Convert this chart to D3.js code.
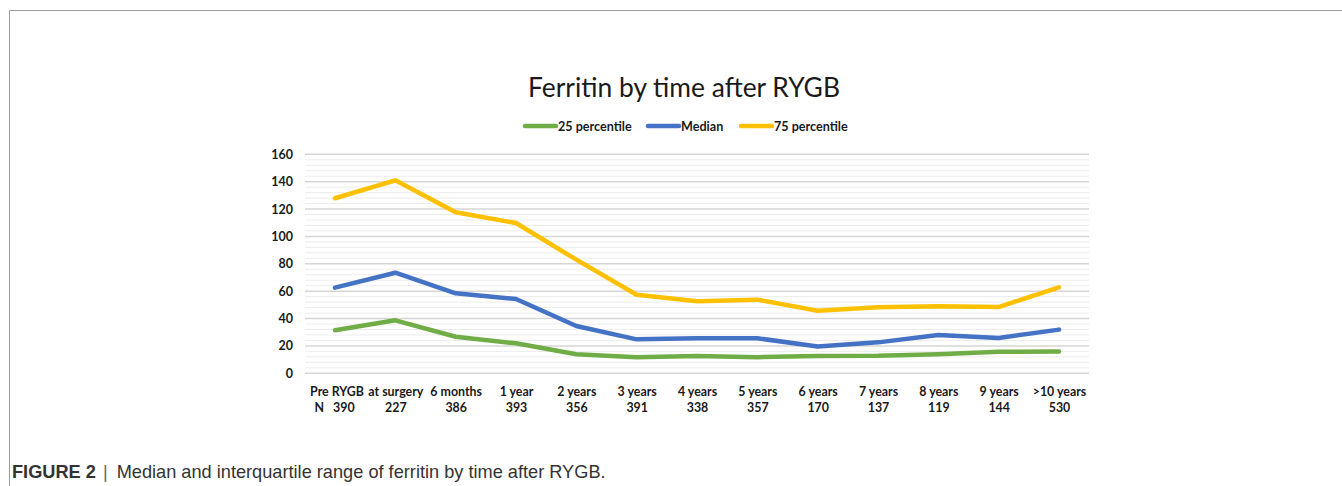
<!DOCTYPE html>
<html><head><meta charset="utf-8">
<script src="https://cdn.jsdelivr.net/npm/d3@7"></script>
<style>
html,body{margin:0;padding:0;background:#fff;}
svg{display:block;}
</style></head>
<body>
<svg id="chart" width="1342" height="486"></svg>
<script>
const categories = ["Pre RYGB","at surgery","6 months","1 year","2 years","3 years","4 years","5 years","6  years","7  years","8  years","9  years",">10 years"];
const nLabels = ["N   390","227","386","393","356","391","338","357","170","137","119","144","530"];
const p25 = [31.5,38.7,26.7,21.9,13.9,11.8,12.6,11.8,12.6,12.8,14,15.8,15.9];
const median = [62.6,73.5,58.4,54.3,34.6,24.8,25.6,25.6,19.6,22.6,28,25.8,31.9];
const p75 = [127.9,141,117.6,109.8,83,57.4,52.6,53.8,45.7,48.2,48.9,48.4,62.8];
const yTicks = [0,20,40,60,80,100,120,140,160];
const seriesNames = ["25 percentile","Median","75 percentile"];
const seriesColors = ["#70AD47","#4472C4","#FFC000"];
const titleText = "Ferritin by time after RYGB";

const svg = d3.select("#chart");
const FONT = "Lato, 'Open Sans', sans-serif";

// frame
svg.append("line").attr("x1",9.5).attr("x2",1342).attr("y1",10.5).attr("y2",10.5).attr("stroke","#9a9a9a").attr("stroke-width",1);
svg.append("line").attr("x1",9.5).attr("x2",9.5).attr("y1",10.5).attr("y2",486).attr("stroke","#9a9a9a").attr("stroke-width",1);

const x = d3.scalePoint().domain(categories).range([335,1059]);
const y = d3.scaleLinear().domain([0,160]).range([373.3,154.3]);

// minor grid
const minor = d3.range(0,161,4).filter(v=>v%20!==0);
svg.append("g").selectAll("line").data(minor).join("line")
  .attr("x1",305).attr("x2",1089)
  .attr("y1",d=>y(d)).attr("y2",d=>y(d))
  .attr("stroke","#ececec").attr("stroke-width",1);
// major grid
svg.append("g").selectAll("line").data(yTicks).join("line")
  .attr("x1",305).attr("x2",1089)
  .attr("y1",d=>y(d)).attr("y2",d=>y(d))
  .attr("stroke","#d6d6d6").attr("stroke-width",1.5);

// y axis labels
const yAxis = d3.axisLeft(y).tickValues(yTicks).tickSize(0).tickPadding(0);
const gy = svg.append("g").attr("transform","translate(293,0)").call(yAxis);
gy.select(".domain").remove();
gy.selectAll("text").attr("font-family",FONT).attr("font-weight","bold").attr("font-size",12.5).attr("fill","#1a1a1a");

// x labels
const xAxis = d3.axisBottom(x).tickSize(0).tickPadding(0).tickFormat(()=>"");
const gx = svg.append("g").attr("transform","translate(0,383)").call(xAxis);
gx.select(".domain").remove();
gx.selectAll(".tick").each(function(d,i){
  const t = d3.select(this).append("text").attr("text-anchor","middle")
    .attr("font-family",FONT).attr("font-weight","bold").attr("font-size",12.4).attr("fill","#1a1a1a");
  t.append("tspan").attr("x",i===0?1.5:0).attr("y",13).text(d);
  t.append("tspan").attr("x",i===0?-1:0).attr("y",29).attr("xml:space","preserve").style("white-space","pre").text(nLabels[i]);
});

// lines
const all = [p25, median, p75];
const line = d3.line().x((d,i)=>x(categories[i])).y(d=>y(d));
all.forEach((s,k)=>{
  svg.append("path").datum(s).attr("d",line).attr("fill","none")
    .attr("stroke",seriesColors[k]).attr("stroke-width",4.5)
    .attr("stroke-linejoin","round").attr("stroke-linecap","round");
});

// title
const title = svg.append("text").attr("x",684).attr("y",97).attr("text-anchor","middle")
  .attr("font-family",FONT).attr("font-size",26).attr("fill","#1a1a1a").text(titleText);
const tw = title.node().getComputedTextLength();
title.attr("font-size",26*312/tw);

// legend
const legX = [525,648,741];
const legendG = svg.append("g");
seriesNames.forEach((n,k)=>{
  legendG.append("line").attr("x1",legX[k]).attr("x2",legX[k]+31).attr("y1",126).attr("y2",126)
    .attr("stroke",seriesColors[k]).attr("stroke-width",4.5).attr("stroke-linecap","round");
  legendG.append("text").attr("x",legX[k]+33).attr("y",130.5)
    .attr("font-family",FONT).attr("font-weight","bold").attr("font-size",12.6).attr("fill","#1a1a1a").text(n);
});

// caption
const cap = svg.append("text").attr("x",12).attr("y",478).attr("font-family","'Liberation Sans', Arial, sans-serif").attr("font-size",18.2).attr("fill","#333");
cap.append("tspan").attr("font-weight","bold").text("FIGURE 2");
cap.append("tspan").attr("fill","#666").attr("dx",7).text("|");
cap.append("tspan").attr("dx",9).text("Median and interquartile range of ferritin by time after RYGB.");
</script>
</body></html>
